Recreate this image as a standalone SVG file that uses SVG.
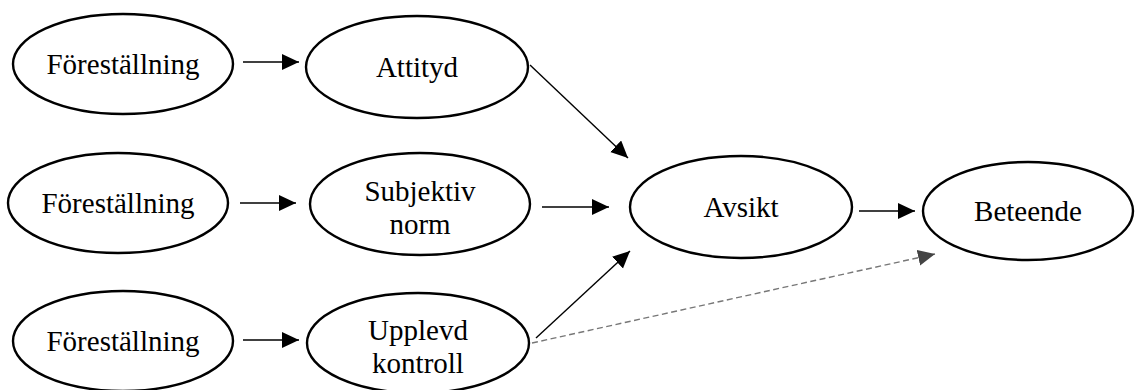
<svg xmlns="http://www.w3.org/2000/svg" width="1136" height="390" viewBox="0 0 1136 390">
<style>
.n ellipse{fill:#fff;stroke:#000;stroke-width:2.4}
.n text{font-family:'Liberation Serif','Times New Roman',serif;font-size:29px;fill:#000;text-anchor:middle}
.c line{stroke:#000;stroke-width:1.4;fill:none}
.c line.d{stroke:#777;stroke-width:1.4;stroke-dasharray:6 3.5}
</style>
<defs>
<marker id="a" markerUnits="userSpaceOnUse" markerWidth="19" markerHeight="17" refX="17" refY="8" orient="auto">
<path d="M0,0 L17,8 L0,16 Z" fill="#000"/>
</marker>
<marker id="ag" markerUnits="userSpaceOnUse" markerWidth="19" markerHeight="17" refX="17" refY="8" orient="auto">
<path d="M0,0 L17,8 L0,16 Z" fill="#444"/>
</marker>
</defs>
<g id="connectors" class="c">
<line x1="243" y1="62" x2="299" y2="62" marker-end="url(#a)"/>
<line x1="240" y1="203" x2="296" y2="203" marker-end="url(#a)"/>
<line x1="243" y1="340" x2="299" y2="340" marker-end="url(#a)"/>
<line x1="530" y1="65" x2="628" y2="158" marker-end="url(#a)"/>
<line x1="542" y1="207" x2="609" y2="207" marker-end="url(#a)"/>
<line x1="536" y1="338" x2="630" y2="251" marker-end="url(#a)"/>
<line x1="859" y1="211" x2="915" y2="211" marker-end="url(#a)"/>
<line class="d" x1="532" y1="343" x2="935" y2="254" marker-end="url(#ag)"/>
</g>
<g id="n1" class="n"><ellipse cx="123" cy="64" rx="110" ry="50"/><text x="123" y="74">Föreställning</text></g>
<g id="n2" class="n"><ellipse cx="417" cy="67" rx="111" ry="51"/><text x="417" y="77">Attityd</text></g>
<g id="n3" class="n"><ellipse cx="118" cy="203" rx="110" ry="50"/><text x="118" y="213">Föreställning</text></g>
<g id="n4" class="n"><ellipse cx="420" cy="204" rx="110" ry="51"/><text x="420" y="201">Subjektiv</text><text x="420" y="234">norm</text></g>
<g id="n5" class="n"><ellipse cx="123" cy="341" rx="110" ry="50"/><text x="123" y="351">Föreställning</text></g>
<g id="n6" class="n"><ellipse cx="418" cy="343" rx="111" ry="50"/><text x="418" y="340">Upplevd</text><text x="418" y="373">kontroll</text></g>
<g id="n7" class="n"><ellipse cx="741" cy="207" rx="111" ry="51"/><text x="741" y="217">Avsikt</text></g>
<g id="n8" class="n"><ellipse cx="1028" cy="211" rx="105" ry="49"/><text x="1028" y="221">Beteende</text></g>
</svg>
